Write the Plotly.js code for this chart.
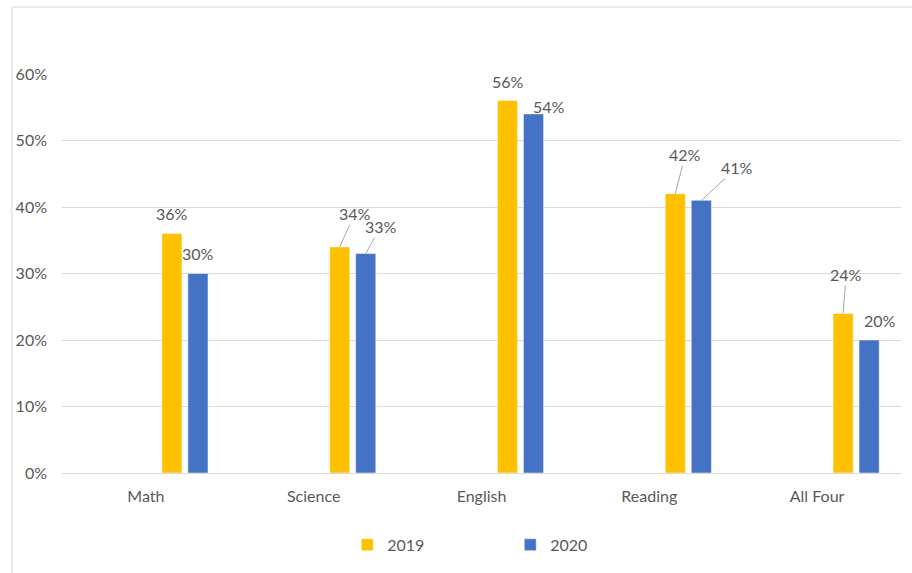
<!DOCTYPE html>
<html>
<head>
<meta charset="utf-8">
<script src="https://cdn.plot.ly/plotly-3.0.1.min.js"></script>
<style>html,body{margin:0;padding:0;background:#fff;}#chart{width:912px;height:573px;}</style>
</head>
<body>
<div id="chart"></div>
<script>
// ---- data ----
var categories = ["Math", "Science", "English", "Reading", "All Four"];
var values2019 = [0.36, 0.34, 0.56, 0.42, 0.24];
var values2020 = [0.30, 0.33, 0.54, 0.41, 0.20];
var seriesNames = ["2019", "2020"];
var yTicks = [0, 0.1, 0.2, 0.3, 0.4, 0.5, 0.6];

// ---- styles ----
var FONT = "Lato, 'Open Sans', sans-serif";
var TXT = "#595959";
var COL19 = "#FFC000", COL20 = "#4472C4";
var BAR_W = 0.12;
var OFF19 = 0.095, OFF20 = 0.25;
var idx = categories.map(function (c, i) { return i; });

// label offsets in px (dx, dy relative to bar top centre), leader line flag
var lab19 = [[0, -20, false], [15, -33, true], [0, -19, false], [10, -39, true], [3, -39, true]];
var lab20 = [[0, -20, false], [15, -27, true], [15, -7, false], [36, -33, true], [11, -20, false]];

function pct(v) { return Math.round(v * 100) + "%"; }

var annotations = [];
function addLabels(vals, off, labs) {
  vals.forEach(function (v, i) {
    var xc = i + off + BAR_W / 2;
    var l = labs[i];
    if (l[2]) {
      annotations.push({
        x: xc, y: v, xref: "x", yref: "y", text: pct(v),
        showarrow: true, arrowhead: 0, arrowwidth: 1, arrowcolor: "#A6A6A6",
        ax: l[0], ay: l[1], standoff: 0,
        font: {family: FONT, size: 16, color: TXT}
      });
    } else {
      annotations.push({
        x: xc, y: v, xref: "x", yref: "y", text: pct(v), showarrow: false,
        xanchor: "center", yanchor: "middle", xshift: l[0], yshift: -l[1],
        font: {family: FONT, size: 16, color: TXT}
      });
    }
  });
}
addLabels(values2019, OFF19, lab19);
addLabels(values2020, OFF20, lab20);

var traces = [
  {type: "bar", name: seriesNames[0], x: idx, y: values2019, offset: OFF19, width: BAR_W,
   marker: {color: COL19, line: {color: "#FFFFFF", width: 0.5}}, hoverinfo: "skip"},
  {type: "bar", name: seriesNames[1], x: idx, y: values2020, offset: OFF20, width: BAR_W,
   marker: {color: COL20, line: {color: "#FFFFFF", width: 0.5}}, hoverinfo: "skip"}
];

var layout = {
  width: 912, height: 573,
  margin: {l: 62, r: 11, t: 74, b: 100},
  paper_bgcolor: "#FFFFFF", plot_bgcolor: "#FFFFFF",
  font: {family: FONT, size: 16, color: TXT},
  barmode: "overlay",
  showlegend: true,
  legend: {orientation: "h", x: 0.34, xanchor: "left", y: -0.18, yanchor: "middle",
           font: {family: FONT, size: 16, color: TXT}, entrywidth: 118, entrywidthmode: "pixels",
           traceorder: "normal"},
  xaxis: {
    type: "linear", range: [-0.5, 4.5], tickvals: idx, ticktext: categories,
    showgrid: false, zeroline: false, showline: false, ticks: "",
    ticklabelstandoff: 12, tickfont: {family: FONT, size: 16, color: TXT}, fixedrange: true
  },
  yaxis: {
    range: [0, 0.6], tickvals: yTicks, tickformat: ".0%",
    showgrid: true, gridcolor: "#D9D9D9", gridwidth: 1,
    zeroline: true, zerolinecolor: "#D9D9D9", zerolinewidth: 1,
    showline: false, ticks: "", ticklabelstandoff: 14,
    tickfont: {family: FONT, size: 16, color: TXT}, fixedrange: true
  },
  annotations: annotations,
  shapes: [
    {type: "line", xref: "paper", yref: "paper", x0: -0.0596, x1: 1.02, y0: 1.168, y1: 1.168,
     line: {color: "#E3E3E3", width: 1.5}},
    {type: "line", xref: "paper", yref: "paper", x0: -0.0596, x1: -0.0596, y0: 1.168, y1: -0.26,
     line: {color: "#E3E3E3", width: 1.5}}
  ]
};

Plotly.newPlot("chart", traces, layout, {staticPlot: true, displayModeBar: false});
</script>
</body>
</html>
